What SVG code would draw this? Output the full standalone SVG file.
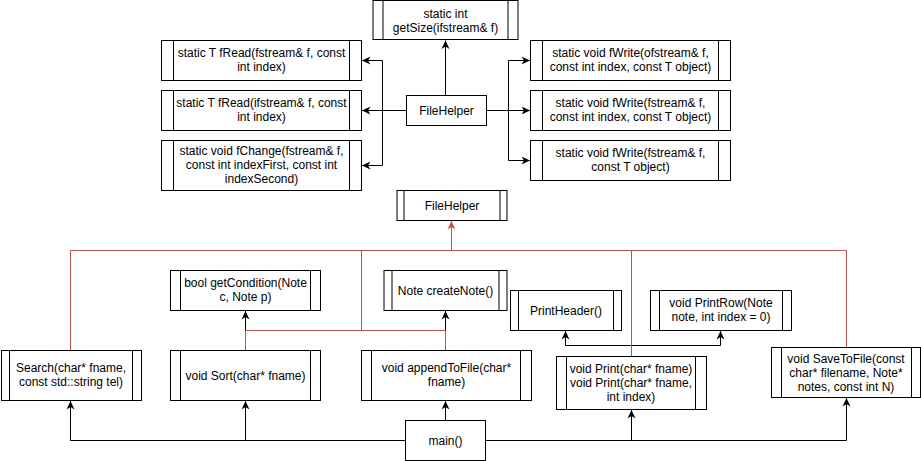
<svg xmlns="http://www.w3.org/2000/svg" width="921" height="461" viewBox="0 0 921 461">
<style>
rect{fill:#fff;stroke:#000;stroke-width:1}
.in{stroke:#000;stroke-width:1}
text{font-family:"Liberation Sans",Arial,Helvetica,sans-serif;font-size:12px;fill:#000;text-anchor:middle}
.k{fill:none;stroke:#000;stroke-width:1}
.r{fill:none;stroke:#b85450;stroke-width:1}
</style>
<defs>
<marker id="ab" viewBox="0 0 9 9" refX="8.5" refY="4.5" markerWidth="9" markerHeight="9" orient="auto" markerUnits="userSpaceOnUse"><path d="M0,0.5 L8.5,4.5 L0,8.5 L2.5,4.5 Z" fill="#000"/></marker>
<marker id="ar" viewBox="0 0 9 9" refX="8.5" refY="4.5" markerWidth="9" markerHeight="9" orient="auto" markerUnits="userSpaceOnUse"><path d="M0,0.5 L8.5,4.5 L0,8.5 L2.5,4.5 Z" fill="#b85450"/></marker>
</defs>
<rect x="0" y="0" width="921" height="461" style="stroke:none;fill:#fff"/>

<g id="connectors">
<path class="k" d="M445.5,95 V40.5" marker-end="url(#ab)"/>
<path class="k" d="M406,110.5 H362" marker-end="url(#ab)"/>
<path class="k" d="M382.5,110.5 V60.5 H362" marker-end="url(#ab)"/>
<path class="k" d="M382.5,110.5 V165.5 H362" marker-end="url(#ab)"/>
<path class="k" d="M486,110.5 H530" marker-end="url(#ab)"/>
<path class="k" d="M508.5,110.5 V60.5 H530" marker-end="url(#ab)"/>
<path class="k" d="M508.5,110.5 V160.5 H530" marker-end="url(#ab)"/>
<path class="k" d="M405,440.5 H70.5 V401" marker-end="url(#ab)"/>
<path class="k" d="M245.5,440.5 V401" marker-end="url(#ab)"/>
<path class="k" d="M445.5,420 V401" marker-end="url(#ab)"/>
<path class="k" d="M485,440.5 H846.5 V398" marker-end="url(#ab)"/>
<path class="k" d="M631.5,440.5 V410" marker-end="url(#ab)"/>
<path class="k" d="M245.5,350 V311" marker-end="url(#ab)"/>
<path class="k" d="M445.5,350 V311" marker-end="url(#ab)"/>
<path class="k" d="M631.5,356 V345.5 H565.5 V331" marker-end="url(#ab)"/>
<path class="k" d="M631.5,345.5 H720.5 V331" marker-end="url(#ab)"/>
<path class="r" d="M70.5,350 V250.5 H846.5 V347"/>
<path class="r" d="M361.5,330.5 V250.5"/>
<path class="r" d="M631.5,356 V250.5"/>
<path class="r" d="M245.5,350 V330.5 H445.5 V350"/>
<path class="r" d="M451.5,250.5 V221" marker-end="url(#ar)"/>
</g>

<g id="getSize">
<rect x="373" y="0.5" width="145" height="39"/>
<line class="in" x1="383" y1="0.5" x2="383" y2="39.5"/><line class="in" x1="508" y1="0.5" x2="508" y2="39.5"/>
<text x="445.5" y="17.5">static int</text>
<text x="445.5" y="31.5">getSize(ifstream&amp; f)</text>
</g>

<g id="fRead1">
<rect x="161.5" y="40.5" width="200" height="40"/>
<line class="in" x1="173.5" y1="40.5" x2="173.5" y2="80.5"/><line class="in" x1="349.5" y1="40.5" x2="349.5" y2="80.5"/>
<text x="261.5" y="57">static T fRead(fstream&amp; f, const</text>
<text x="261.5" y="71">int index)</text>
</g>

<g id="fRead2">
<rect x="161.5" y="90.5" width="200" height="40"/>
<line class="in" x1="173.5" y1="90.5" x2="173.5" y2="130.5"/><line class="in" x1="349.5" y1="90.5" x2="349.5" y2="130.5"/>
<text x="261.5" y="107">static T fRead(ifstream&amp; f, const</text>
<text x="261.5" y="121">int index)</text>
</g>

<g id="fChange">
<rect x="161.5" y="140.5" width="200" height="50"/>
<line class="in" x1="173.5" y1="140.5" x2="173.5" y2="190.5"/><line class="in" x1="349.5" y1="140.5" x2="349.5" y2="190.5"/>
<text x="261.5" y="155">static void fChange(fstream&amp; f,</text>
<text x="261.5" y="169">const int indexFirst, const int</text>
<text x="261.5" y="183">indexSecond)</text>
</g>

<g id="fileHelper">
<rect x="406.5" y="95.5" width="80" height="30"/>
<text x="446.5" y="114.5">FileHelper</text>
</g>

<g id="fWrite1">
<rect x="530.5" y="40.5" width="200" height="40"/>
<line class="in" x1="542.5" y1="40.5" x2="542.5" y2="80.5"/><line class="in" x1="718.5" y1="40.5" x2="718.5" y2="80.5"/>
<text x="630.5" y="57">static void fWrite(ofstream&amp; f,</text>
<text x="630.5" y="71">const int index, const T object)</text>
</g>

<g id="fWrite2">
<rect x="530.5" y="90.5" width="200" height="40"/>
<line class="in" x1="542.5" y1="90.5" x2="542.5" y2="130.5"/><line class="in" x1="718.5" y1="90.5" x2="718.5" y2="130.5"/>
<text x="630.5" y="107">static void fWrite(fstream&amp; f,</text>
<text x="630.5" y="121">const int index, const T object)</text>
</g>

<g id="fWrite3">
<rect x="530.5" y="140.5" width="200" height="40"/>
<line class="in" x1="542.5" y1="140.5" x2="542.5" y2="180.5"/><line class="in" x1="718.5" y1="140.5" x2="718.5" y2="180.5"/>
<text x="630.5" y="157">static void fWrite(fstream&amp; f,</text>
<text x="630.5" y="171">const T object)</text>
</g>

<g id="fileHelper2">
<rect x="397" y="190.5" width="110" height="30"/>
<line class="in" x1="404" y1="190.5" x2="404" y2="220.5"/><line class="in" x1="500" y1="190.5" x2="500" y2="220.5"/>
<text x="452" y="209.5">FileHelper</text>
</g>

<g id="getCondition">
<rect x="170.5" y="270.5" width="150" height="40"/>
<line class="in" x1="180.5" y1="270.5" x2="180.5" y2="310.5"/><line class="in" x1="310.5" y1="270.5" x2="310.5" y2="310.5"/>
<text x="245.5" y="287">bool getCondition(Note</text>
<text x="245.5" y="301">c, Note p)</text>
</g>

<g id="createNote">
<rect x="384" y="270.5" width="123" height="40"/>
<line class="in" x1="392" y1="270.5" x2="392" y2="310.5"/><line class="in" x1="499" y1="270.5" x2="499" y2="310.5"/>
<text x="445.5" y="294.5">Note createNote()</text>
</g>

<g id="printHeader">
<rect x="510.5" y="290.5" width="111" height="40"/>
<line class="in" x1="518.5" y1="290.5" x2="518.5" y2="330.5"/><line class="in" x1="613.5" y1="290.5" x2="613.5" y2="330.5"/>
<text x="566" y="314.5">PrintHeader()</text>
</g>

<g id="printRow">
<rect x="650.5" y="290.5" width="141" height="40"/>
<line class="in" x1="659.5" y1="290.5" x2="659.5" y2="330.5"/><line class="in" x1="782.5" y1="290.5" x2="782.5" y2="330.5"/>
<text x="721" y="307">void PrintRow(Note</text>
<text x="721" y="321">note, int index = 0)</text>
</g>

<g id="search">
<rect x="1.5" y="350.5" width="140" height="50"/>
<line class="in" x1="9.5" y1="350.5" x2="9.5" y2="400.5"/><line class="in" x1="132.5" y1="350.5" x2="132.5" y2="400.5"/>
<text x="71" y="372">Search(char* fname,</text>
<text x="71" y="386">const std::string tel)</text>
</g>

<g id="sort">
<rect x="170.5" y="350.5" width="150" height="50"/>
<line class="in" x1="180.5" y1="350.5" x2="180.5" y2="400.5"/><line class="in" x1="310.5" y1="350.5" x2="310.5" y2="400.5"/>
<text x="245.5" y="379.5">void Sort(char* fname)</text>
</g>

<g id="appendToFile">
<rect x="361.5" y="350.5" width="170" height="50"/>
<line class="in" x1="371.5" y1="350.5" x2="371.5" y2="400.5"/><line class="in" x1="520.5" y1="350.5" x2="520.5" y2="400.5"/>
<text x="446.5" y="372">void appendToFile(char*</text>
<text x="446.5" y="386">fname)</text>
</g>

<g id="main">
<rect x="405.5" y="420.5" width="80" height="40"/>
<text x="445.5" y="444.5">main()</text>
</g>

<g id="print">
<rect x="556.5" y="356.5" width="150" height="53"/>
<line class="in" x1="566.5" y1="356.5" x2="566.5" y2="409.5"/><line class="in" x1="695.5" y1="356.5" x2="695.5" y2="409.5"/>
<text x="631" y="373">void Print(char* fname)</text>
<text x="631" y="387">void Print(char* fname,</text>
<text x="631" y="401">int index)</text>
</g>

<g id="saveToFile">
<rect x="771.5" y="347.5" width="149" height="50"/>
<line class="in" x1="781.5" y1="347.5" x2="781.5" y2="397.5"/><line class="in" x1="911.5" y1="347.5" x2="911.5" y2="397.5"/>
<text x="846" y="362.5">void SaveToFile(const</text>
<text x="846" y="376.5">char* filename, Note*</text>
<text x="846" y="390.5">notes, const int N)</text>
</g>
</svg>
